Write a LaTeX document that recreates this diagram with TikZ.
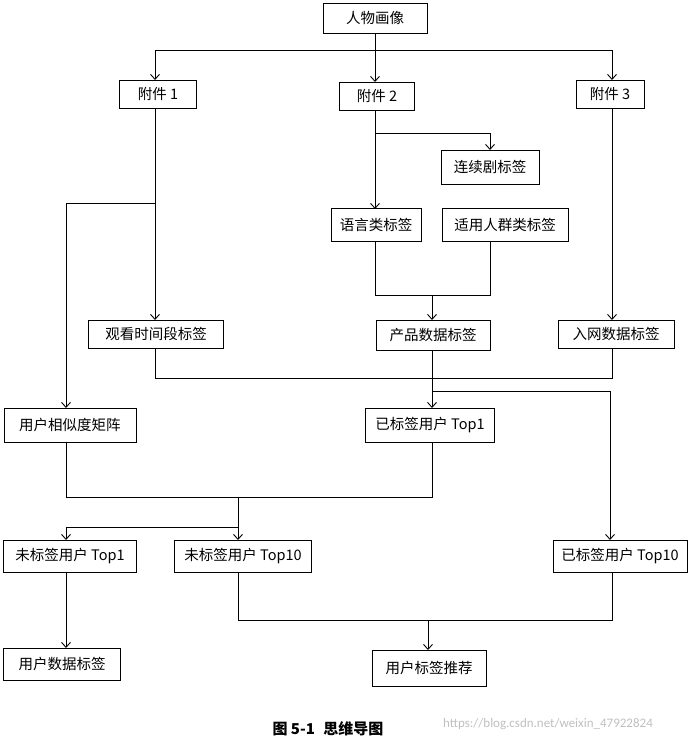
\documentclass[tikz,border=0pt]{standalone}
\usepackage{fontspec}
\setmainfont{Carlito}
\newfontfamily\cjk{Noto Sans CJK SC}
\usetikzlibrary{arrows.meta}
\begin{document}
\begin{tikzpicture}[x=1pt,y=-1pt,
  box/.style={draw,line width=0.8pt,inner sep=0pt,font=\cjk\fontsize{14.5}{16}\selectfont},
  ln/.style={line width=0.9pt},
  arr/.style={ln,-{Straight Barb[length=5pt,width=9pt]}}]
\useasboundingbox (0,0) rectangle (691,744);
\node[box,minimum width=104pt,minimum height=30pt] (rw) at (375,18) {人物画像};
\node[box,minimum width=77pt,minimum height=28pt] (f1) at (158,94) {附件 1};
\node[box,minimum width=75pt,minimum height=28pt] (f2) at (377,96) {附件 2};
\node[box,minimum width=68pt,minimum height=28pt] (f3) at (610,94) {附件 3};
\node[box,minimum width=98pt,minimum height=34pt] (lx) at (490,167) {连续剧标签};
\node[box,minimum width=90pt,minimum height=33pt] (yy) at (376,225) {语言类标签};
\node[box,minimum width=126pt,minimum height=33pt] (sy) at (505,225) {适用人群类标签};
\node[box,minimum width=135pt,minimum height=28pt] (gk) at (156,334) {观看时间段标签};
\node[box,minimum width=114pt,minimum height=30pt] (cp) at (433,335) {产品数据标签};
\node[box,minimum width=116pt,minimum height=28pt] (rw3) at (616,334) {入网数据标签};
\node[box,minimum width=132pt,minimum height=34pt] (xs) at (70,425) {用户相似度矩阵};
\node[box,minimum width=129pt,minimum height=34pt] (y1) at (430,425) {已标签用户 Top1};
\node[box,minimum width=133pt,minimum height=32pt] (w1) at (70,556) {未标签用户 Top1};
\node[box,minimum width=137pt,minimum height=32pt] (w10) at (243,556) {未标签用户 Top10};
\node[box,minimum width=134pt,minimum height=32pt] (y10) at (620,556) {已标签用户 Top10};
\node[box,minimum width=117pt,minimum height=32pt] (sj) at (62,664) {用户数据标签};
\node[box,minimum width=114pt,minimum height=36pt] (tj) at (429,668) {用户标签推荐};
\node[font=\cjk\bfseries\fontsize{15}{17}\selectfont] (cap) at (328,729) {图 5-1\,\, 思维导图};
\node[font=\fontsize{13}{15}\selectfont,text=black!25] (wm) at (548,724) {https://blog.csdn.net/weixin\_47922824};
% top
\draw[ln] (rw.south) -- (375,50);
\draw[ln] (155,50) -- (612,50);
\draw[arr] (155,50) -- (155,80);
\draw[arr] (375,50) -- (375,82);
\draw[arr] (612,50) -- (612,80);
% fujian 2
\draw[arr] (375,110) -- (375,209);
\draw[ln] (375,133) -- (490,133);
\draw[arr] (490,133) -- (490,150);
\draw[ln] (375,242) -- (375,295) -- (490,295) -- (490,242);
\draw[arr] (432,295) -- (432,320);
% fujian 1
\draw[arr] (155,108) -- (155,320);
\draw[ln] (155,203) -- (66,203);
\draw[arr] (66,203) -- (66,408);
\draw[ln] (155,348) -- (155,378) -- (612,378) -- (612,348);
% fujian 3
\draw[arr] (612,108) -- (612,320);
% product
\draw[arr] (432,350) -- (432,408);
\draw[ln] (432,391) -- (610,391);
\draw[arr] (610,391) -- (610,540);
% similarity
\draw[ln] (66,442) -- (66,497) -- (432,497) -- (432,442);
\draw[arr] (238,497) -- (238,540);
\draw[ln] (238,527) -- (66,527);
\draw[arr] (66,527) -- (66,540);
\draw[arr] (66,572) -- (66,648);
% bottom
\draw[ln] (238,572) -- (238,620) -- (612,620) -- (612,572);
\draw[arr] (428,620) -- (428,650);
\end{tikzpicture}
\end{document}
